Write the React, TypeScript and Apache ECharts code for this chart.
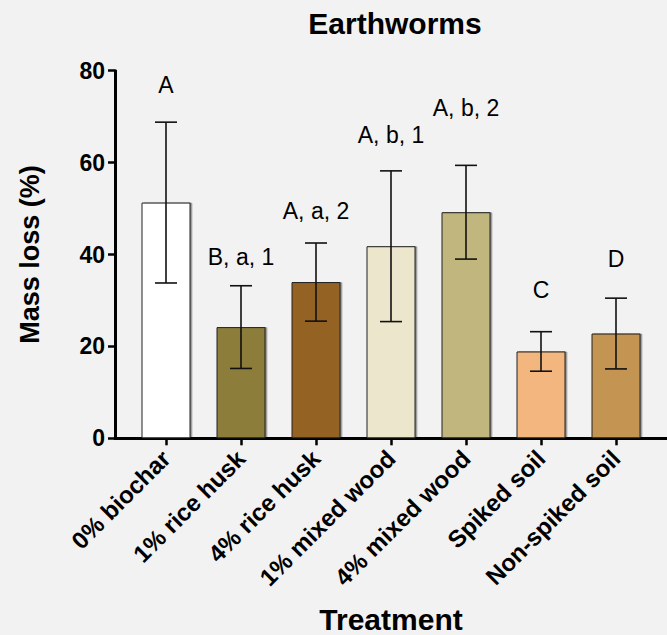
import React, { useEffect, useRef } from "react";
import * as echarts from "echarts";

const categories = [
  "0% biochar",
  "1% rice husk",
  "4% rice husk",
  "1% mixed wood",
  "4% mixed wood",
  "Spiked soil",
  "Non-spiked soil",
];
const means = [51.3, 24.2, 34.0, 41.8, 49.2, 18.9, 22.8];
const sds = [17.5, 9.0, 8.5, 16.4, 10.2, 4.3, 7.7];
const letters = ["A", "B, a, 1", "A, a, 2", "A, b, 1", "A, b, 2", "C", "D"];
const letterY = [76.9, 39.5, 49.5, 66.0, 71.9, 32.3, 39.0];
const barColors = ["#ffffff", "#8c7d3a", "#946221", "#ece7cc", "#c1b77e", "#f2b67e", "#c49452"];
const yTicks = { min: 0, max: 80, interval: 20 };

const FONT = "'Liberation Sans', Arial, Helvetica, sans-serif";

export default function App() {
  const ref = useRef<HTMLDivElement>(null);
  useEffect(() => {
    if (!ref.current) return;
    const chart = echarts.init(ref.current, null, { renderer: "svg" });
    const option: any = {
      animation: false,
      backgroundColor: "#f2f2f2",
      textStyle: { fontFamily: FONT },
      title: {
        text: "Earthworms",
        left: 390,
        top: 3,
        textAlign: "center",
        textStyle: { fontFamily: FONT, fontSize: 30, fontWeight: "bold", color: "#000" },
      },
      grid: [
        { left: 128.5, width: 525, top: 70.7, height: 367.6, outerBoundsMode: "none", containLabel: false },
        { left: 115, right: 0, top: 70.7, height: 367.6, outerBoundsMode: "none", containLabel: false },
      ],
      xAxis: [
        {
          type: "category",
          gridIndex: 0,
          data: categories,
          axisLine: { show: false },
          axisTick: { show: true, alignWithLabel: true, length: 7, lineStyle: { color: "#000", width: 2.5 } },
          axisLabel: {
            interval: 0,
            rotate: 45,
            margin: 16,
            fontFamily: FONT,
            fontSize: 24,
            fontWeight: "bold",
            color: "#000",
          },
          name: "Treatment",
          nameLocation: "middle",
          nameGap: 166,
          nameTextStyle: { fontFamily: FONT, fontSize: 30, fontWeight: "bold", color: "#000" },
        },
        {
          type: "value",
          gridIndex: 1,
          min: 0,
          max: 1,
          axisLine: { show: true, lineStyle: { color: "#000", width: 3 } },
          axisTick: { show: false },
          axisLabel: { show: false },
          splitLine: { show: false },
        },
      ],
      yAxis: [
        {
          type: "value",
          gridIndex: 0,
          min: yTicks.min,
          max: yTicks.max,
          interval: yTicks.interval,
          offset: 13.5,
          axisLine: { show: true, lineStyle: { color: "#000", width: 3 } },
          axisTick: { show: true, length: 7, lineStyle: { color: "#000", width: 2.5 } },
          axisLabel: { margin: 10, fontFamily: FONT, fontSize: 23, fontWeight: "bold", color: "#000" },
          splitLine: { show: false },
          name: "Mass loss (%)",
          nameLocation: "middle",
          nameGap: 72,
          nameTextStyle: { fontFamily: FONT, fontSize: 27, fontWeight: "bold", color: "#000" },
        },
        {
          type: "value",
          gridIndex: 1,
          min: 0,
          max: 1,
          show: false,
        },
      ],
      series: [
        {
          type: "bar",
          xAxisIndex: 0,
          yAxisIndex: 0,
          barWidth: 49,
          data: means.map((v, i) => ({
            value: v,
            itemStyle: {
              color: barColors[i],
              borderColor: "#222",
              borderWidth: 1,
              shadowColor: "rgba(0,0,0,0.45)",
              shadowOffsetX: 1.5,
              shadowOffsetY: 0,
              shadowBlur: 0,
            },
          })),
          z: 2,
        },
        {
          type: "custom",
          xAxisIndex: 0,
          yAxisIndex: 0,
          data: means.map((m, i) => [i, m - sds[i], m + sds[i]]),
          renderItem: (params: any, api: any) => {
            const x = api.value(0);
            const lo = api.coord([x, api.value(1)]);
            const hi = api.coord([x, api.value(2)]);
            const half = 11;
            const style = { stroke: "#111", lineWidth: 1.6 };
            return {
              type: "group",
              children: [
                { type: "line", shape: { x1: hi[0], y1: hi[1], x2: lo[0], y2: lo[1] }, style },
                { type: "line", shape: { x1: hi[0] - half, y1: hi[1], x2: hi[0] + half, y2: hi[1] }, style },
                { type: "line", shape: { x1: lo[0] - half, y1: lo[1], x2: lo[0] + half, y2: lo[1] }, style },
              ],
            };
          },
          z: 5,
        },
        {
          type: "custom",
          xAxisIndex: 0,
          yAxisIndex: 0,
          data: letterY.map((y, i) => [i, y]),
          renderItem: (params: any, api: any) => {
            const i = api.value(0);
            const p = api.coord([i, api.value(1)]);
            return {
              type: "text",
              x: p[0],
              y: p[1],
              style: {
                text: letters[params.dataIndex],
                fontFamily: FONT,
                fontSize: 23,
                fill: "#000",
                align: "center",
                verticalAlign: "middle",
              },
            };
          },
          z: 6,
        },
      ],
    };
    chart.setOption(option);
    return () => chart.dispose();
  }, []);
  return (
    <div
      ref={ref}
      style={{ position: "fixed", left: 0, top: 0, width: 667, height: 635 }}
    />
  );
}
